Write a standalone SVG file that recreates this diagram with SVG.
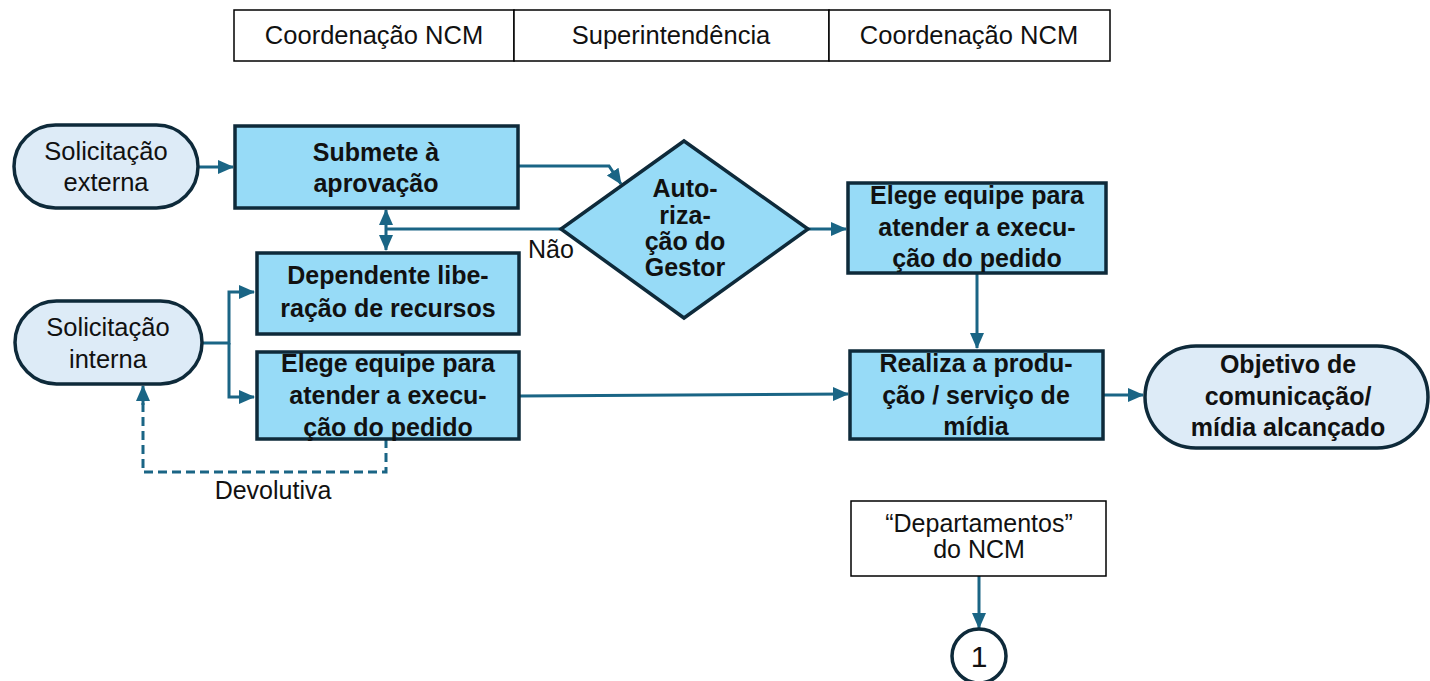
<svg xmlns="http://www.w3.org/2000/svg" width="1430" height="681" viewBox="0 0 1430 681">
<style>
.hdr{fill:#fff;stroke:#000;stroke-width:1.5}
.proc{fill:#97DBF7;stroke:#0E2A3A;stroke-width:3.5}
.term{fill:#DDEBF7;stroke:#0E2A3A;stroke-width:3.5}
.note{fill:#fff;stroke:#000;stroke-width:1.5}
.con{fill:none;stroke:#1A6585;stroke-width:3}
.dash{stroke-dasharray:9,5}
text{font-family:"Liberation Sans",Arial,sans-serif;fill:#111;text-anchor:middle}
.r{font-size:25.5px}
.b{font-size:25px;font-weight:bold}
.s{font-size:25px}
</style>
<defs>
<marker id="ah" markerUnits="userSpaceOnUse" markerWidth="16" markerHeight="16" viewBox="0 0 16 16" refX="15" refY="8" orient="auto-start-reverse">
<path d="M0,1 L16,8 L0,15 Z" fill="#1A6585"/>
</marker>
</defs>
<g id="header">
<rect class="hdr" x="234" y="10" width="280" height="51"/>
<rect class="hdr" x="514" y="10" width="315" height="51"/>
<rect class="hdr" x="829" y="10" width="281" height="51"/>
<text class="r" x="374" y="44">Coordenação NCM</text>
<text class="r" x="671" y="44">Superintendência</text>
<text class="r" x="969" y="44">Coordenação NCM</text>
</g>
<g id="connectors">
<path class="con" d="M198,167 L233,167" marker-end="url(#ah)"/>
<path class="con" d="M518,166 L609,166 L621,184" marker-end="url(#ah)"/>
<path class="con" d="M561,229 L386,229"/>
<path class="con" d="M386,229 L386,210" marker-end="url(#ah)"/>
<path class="con" d="M386,229 L386,250" marker-end="url(#ah)"/>
<path class="con" d="M808,229 L846,229" marker-end="url(#ah)"/>
<path class="con" d="M977,273 L977,348" marker-end="url(#ah)"/>
<path class="con" d="M202,343 L229,343 L229,292 L254,292" marker-end="url(#ah)"/>
<path class="con" d="M229,343 L229,397 L254,397" marker-end="url(#ah)"/>
<path class="con" d="M519,396 L848,394" marker-end="url(#ah)"/>
<path class="con" d="M1103,395 L1143,395" marker-end="url(#ah)"/>
<path class="con dash" d="M386,439 L386,472 L143,472 L143,403"/>
<path class="con" d="M143,405 L143,386" marker-end="url(#ah)"/>
<path class="con" d="M979,576 L979,628" marker-end="url(#ah)"/>
<text class="s" x="551" y="258">Não</text>
<text class="s" x="273" y="499">Devolutiva</text>
</g>
<g id="sol-externa">
<rect class="term" x="14" y="125" width="184" height="83" rx="41.5"/>
<text class="r" x="106" y="160">Solicitação</text>
<text class="r" x="106" y="191">externa</text>
</g>
<g id="submete">
<rect class="proc" x="235" y="126" width="283" height="82"/>
<text class="b" x="376" y="161">Submete à</text>
<text class="b" x="376" y="192">aprovação</text>
</g>
<g id="dependente">
<rect class="proc" x="257" y="253" width="262" height="81"/>
<text class="b" x="388" y="284">Dependente libe-</text>
<text class="b" x="388" y="317">ração de recursos</text>
</g>
<g id="elege-esq">
<rect class="proc" x="257" y="352" width="262" height="87"/>
<text class="b" x="388" y="372">Elege equipe para</text>
<text class="b" x="388" y="404">atender a execu-</text>
<text class="b" x="388" y="436">ção do pedido</text>
</g>
<g id="sol-interna">
<rect class="term" x="15" y="301" width="187" height="83" rx="41.5"/>
<text class="r" x="108" y="336">Solicitação</text>
<text class="r" x="108" y="368">interna</text>
</g>
<g id="autorizacao">
<path class="proc" d="M684,141 L808,229 L684,318 L561,229 Z"/>
<text class="b" x="685" y="197">Auto-</text>
<text class="b" x="685" y="224">riza-</text>
<text class="b" x="685" y="250">ção do</text>
<text class="b" x="685" y="276">Gestor</text>
</g>
<g id="elege-dir">
<rect class="proc" x="848" y="183" width="258" height="90"/>
<text class="b" x="977" y="204">Elege equipe para</text>
<text class="b" x="977" y="236">atender a execu-</text>
<text class="b" x="977" y="267">ção do pedido</text>
</g>
<g id="realiza">
<rect class="proc" x="850" y="351" width="253" height="88"/>
<text class="b" x="976" y="372">Realiza a produ-</text>
<text class="b" x="976" y="404">ção / serviço de</text>
<text class="b" x="976" y="435">mídia</text>
</g>
<g id="objetivo">
<rect class="term" x="1145" y="346" width="283" height="102" rx="51"/>
<text class="b" x="1288" y="373">Objetivo de</text>
<text class="b" x="1288" y="405">comunicação/</text>
<text class="b" x="1288" y="436">mídia alcançado</text>
</g>
<g id="departamentos">
<rect class="note" x="851" y="501" width="255" height="75"/>
<text class="s" x="979" y="532">“Departamentos”</text>
<text class="s" x="979" y="558">do NCM</text>
</g>
<g id="conector-1">
<circle cx="979" cy="656" r="27" fill="#fff" stroke="#0E2A3A" stroke-width="3.5"/>
<text x="979" y="667" style="font-size:30px">1</text>
</g>
</svg>
